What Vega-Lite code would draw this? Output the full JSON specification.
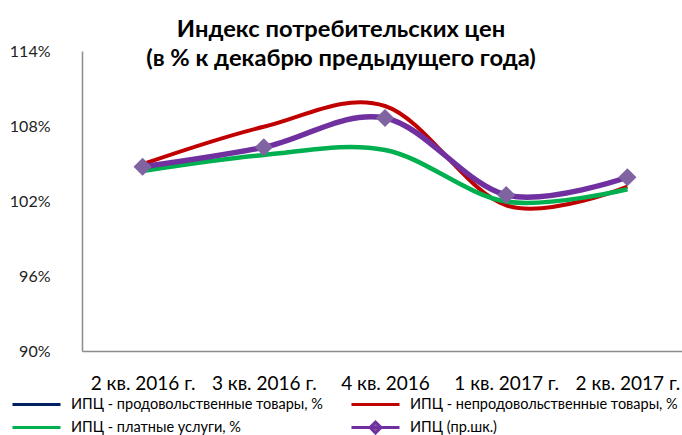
{
  "$schema": "https://vega.github.io/schema/vega-lite/v6.json",
  "width": 606,
  "height": 300,
  "autosize": "none",
  "padding": {"left": 82, "top": 51, "right": 0, "bottom": 84},
  "background": "white",
  "config": {
    "font": "Lato",
    "view": {"stroke": null},
    "axis": {"grid": false, "ticks": false, "domainColor": "#8c8c8c", "domainWidth": 1.5, "labelColor": "#000000", "labelFont": "Lato", "title": null}
  },
  "title": {
    "text": ["Индекс потребительских цен", "(в % к декабрю предыдущего года)"],
    "font": "Lato",
    "fontSize": 23.7,
    "fontWeight": "bold",
    "color": "#000000",
    "anchor": "middle",
    "frame": "group",
    "dx": -44,
    "offset": -28,
    "lineHeight": 29
  },
  "data": {
    "values": [
      {"period": "2 кв. 2016 г.", "series": "ИПЦ - непродовольственные товары, %", "value": 104.95},
      {"period": "3 кв. 2016 г.", "series": "ИПЦ - непродовольственные товары, %", "value": 107.94},
      {"period": "4 кв. 2016", "series": "ИПЦ - непродовольственные товары, %", "value": 109.6},
      {"period": "1 кв. 2017 г.", "series": "ИПЦ - непродовольственные товары, %", "value": 101.65},
      {"period": "2 кв. 2017 г.", "series": "ИПЦ - непродовольственные товары, %", "value": 103.15},
      {"period": "2 кв. 2016 г.", "series": "ИПЦ - платные услуги, %", "value": 104.4},
      {"period": "3 кв. 2016 г.", "series": "ИПЦ - платные услуги, %", "value": 105.68},
      {"period": "4 кв. 2016", "series": "ИПЦ - платные услуги, %", "value": 106.08},
      {"period": "1 кв. 2017 г.", "series": "ИПЦ - платные услуги, %", "value": 101.95},
      {"period": "2 кв. 2017 г.", "series": "ИПЦ - платные услуги, %", "value": 102.94},
      {"period": "2 кв. 2016 г.", "series": "ИПЦ (пр.шк.)", "value": 104.74},
      {"period": "3 кв. 2016 г.", "series": "ИПЦ (пр.шк.)", "value": 106.3},
      {"period": "4 кв. 2016", "series": "ИПЦ (пр.шк.)", "value": 108.64},
      {"period": "1 кв. 2017 г.", "series": "ИПЦ (пр.шк.)", "value": 102.48},
      {"period": "2 кв. 2017 г.", "series": "ИПЦ (пр.шк.)", "value": 103.9}
    ]
  },
  "encoding": {
    "x": {
      "field": "period",
      "type": "ordinal",
      "sort": ["2 кв. 2016 г.", "3 кв. 2016 г.", "4 кв. 2016", "1 кв. 2017 г.", "2 кв. 2017 г."],
      "scale": {"type": "point", "padding": 0.5},
      "axis": {"labelAngle": 0, "labelFontSize": 19, "labelPadding": 23}
    },
    "y": {
      "field": "value",
      "type": "quantitative",
      "scale": {"domain": [90, 114], "nice": false, "zero": false},
      "axis": {"values": [90, 96, 102, 108, 114], "labelExpr": "datum.value + '%'", "labelFontSize": 16, "labelPadding": 32, "labelColor": "#222222"}
    }
  },
  "layer": [
    {
      "transform": [{"filter": "datum.series === 'ИПЦ - непродовольственные товары, %'"}],
      "mark": {"type": "line", "interpolate": "cardinal", "strokeWidth": 4},
      "encoding": {
        "color": {
          "field": "series",
          "type": "nominal",
          "scale": {
            "domain": ["ИПЦ - продовольственные товары, %", "ИПЦ - платные услуги, %", "ИПЦ - непродовольственные товары, %", "ИПЦ (пр.шк.)"],
            "range": ["#002060", "#00B050", "#C00000", "#7030A0"]
          },
          "legend": {
            "title": null,
            "orient": "none",
            "legendX": -57,
            "legendY": 342,
            "columns": 2,
            "columnPadding": 22,
            "rowPadding": 5,
            "symbolType": "M-2.5,0L2.5,0",
            "symbolSize": 369,
            "symbolStrokeWidth": 3,
            "labelFontSize": 14.5,
            "labelOffset": 23,
            "labelColor": "#000000",
            "labelLimit": 400,
            "encode": {
              "symbols": {
                "update": {
                  "shape": {"signal": "datum.label === 'ИПЦ (пр.шк.)' ? 'M-2.5,0L2.5,0M0,-0.57L0.57,0L0,0.57L-0.57,0Z' : 'M-2.5,0L2.5,0'"},
                  "fill": {"signal": "datum.label === 'ИПЦ (пр.шк.)' ? '#8064A2' : 'transparent'"}
                }
              }
            }
          }
        }
      }
    },
    {
      "transform": [{"filter": "datum.series === 'ИПЦ - платные услуги, %'"}],
      "mark": {"type": "line", "interpolate": "cardinal", "strokeWidth": 4.5},
      "encoding": {"color": {"field": "series", "type": "nominal"}}
    },
    {
      "transform": [{"filter": "datum.series === 'ИПЦ (пр.шк.)'"}],
      "mark": {"type": "line", "interpolate": "cardinal", "strokeWidth": 5.5},
      "encoding": {"color": {"field": "series", "type": "nominal"}}
    },
    {
      "transform": [{"filter": "datum.series === 'ИПЦ (пр.шк.)'"}],
      "mark": {"type": "point", "shape": "diamond", "filled": true, "size": 330, "color": "#8064A2", "opacity": 1},
      "encoding": {}
    }
  ]
}
